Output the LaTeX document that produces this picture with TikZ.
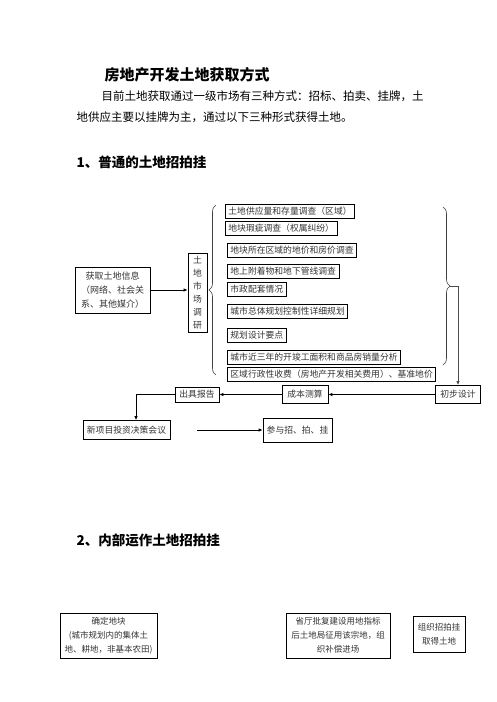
\documentclass[tikz,border=0pt]{standalone}
\usepackage{fontspec}
\setmainfont{Noto Sans CJK SC}
\usetikzlibrary{arrows.meta,positioning,decorations.pathreplacing}

\begin{document}
\begin{tikzpicture}[x=1pt,y=-1pt,
  box/.style={draw,thick,align=center,inner xsep=3pt,inner ysep=1pt,minimum height=14pt,text=black!80,font=\fontsize{8.8}{13}\selectfont},
  item/.style={box,anchor=west},
  arr/.style={-{Latex[length=4pt,width=3.5pt]},thick},
  brc/.style={decorate,decoration={brace,amplitude=7pt},semithick,black!75}]
\useasboundingbox (0,0) rectangle (496,702);
% heading and text
\node[font=\fontsize{15}{15}\selectfont\bfseries] (title) at (187,75) {房地产开发土地获取方式};
\node[anchor=west,font=\fontsize{11.5}{11.5}\selectfont] (para1) at (98,96) {目前土地获取通过一级市场有三种方式：招标、拍卖、挂牌，土};
\node[anchor=west,font=\fontsize{11.5}{11.5}\selectfont] (para2) at (73,117) {地供应主要以挂牌为主，通过以下三种形式获得土地。};
\node[anchor=west,font=\fontsize{13.5}{13.5}\selectfont\bfseries] (sec1) at (73,162) {1、普通的土地招拍挂};
\node[anchor=west,font=\fontsize{13.5}{13.5}\selectfont\bfseries] (sec2) at (73,540) {2、内部运作土地招拍挂};
% market survey
\node[box,minimum width=75pt,minimum height=46pt,font=\fontsize{9}{14}\selectfont] (info) at (112.5,290) {获取土地信息\\（网络、社会关\\系、其他媒介）};
\node[box,minimum width=19pt,minimum height=79pt,inner xsep=1pt] (survey) at (197.5,292.5) {土\\地\\市\\场\\调\\研};
\node[item] (s1) at (225,211.5) {土地供应量和存量调查（区域）};
\node[item] (s2) at (225,228) {地块瑕疵调查（权属纠纷）};
\node[item] (s3) at (227,250.5) {地块所在区域的地价和房价调查};
\node[item] (s4) at (227,271.5) {地上附着物和地下管线调查};
\node[item] (s5) at (227,289.5) {市政配套情况};
\node[item] (s6) at (227,311.5) {城市总体规划控制性详细规划};
\node[item] (s7) at (227,335) {规划设计要点};
\node[item] (s8) at (227,357) {城市近三年的开竣工面积和商品房销量分析};
\node[item] (s9) at (227,374.5) {区域行政性收费（房地产开发相关费用）、基准地价};
\draw[brc] (216,375) -- (216,205);
\draw[brc] (443,207) -- (443,365);
\coordinate (rbtip) at (450,286);
% decision chain
\node[box,minimum width=45pt,minimum height=18pt] (prelim) at (458,394.5) {初步设计};
\node[box,minimum width=46pt,minimum height=18pt] (cost) at (305,394.5) {成本测算};
\node[box,minimum width=44pt,minimum height=15pt] (report) at (197,394.5) {出具报告};
\node[box,minimum width=87pt,minimum height=19pt] (decide) at (126.5,430) {新项目投资决策会议};
\node[box,minimum width=69pt,minimum height=24pt] (bid) at (297.5,430) {参与招、拍、挂};
\draw[arr] (info) -- (info -| survey.west);
\draw[arr,black!70] (rbtip) -| (prelim.north);
\draw[arr] (prelim) -- (cost);
\draw[arr] (cost) -- (report);
\draw[arr] (report.west) -| ([xshift=9.5pt]decide.north);
\draw[arr,shorten <=27pt] (decide) -- (bid);
% internal operation
\node[box,minimum width=97pt,minimum height=45pt,font=\fontsize{8.5}{14}\selectfont] (plot) at (108.5,635.5) {确定地块\\(城市规划内的集体土\\地、耕地，非基本农田)};
\node[box,minimum width=104pt,minimum height=45pt,font=\fontsize{8.5}{14}\selectfont] (approve) at (338,635.5) {省厅批复建设用地指标\\后土地局征用该宗地，组\\织补偿进场};
\node[box,minimum width=52pt,minimum height=36pt,font=\fontsize{8.5}{14}\selectfont] (auction) at (439,634) {组织招拍挂\\取得土地};
\end{tikzpicture}
\end{document}
